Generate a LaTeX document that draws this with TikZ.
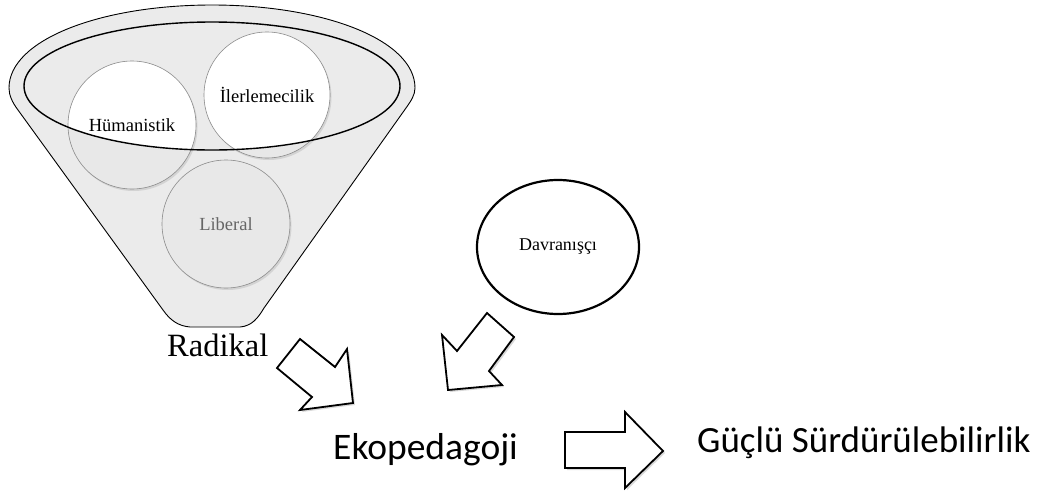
\documentclass[tikz,border=0pt]{standalone}
\usepackage{fontspec}
\setmainfont{Liberation Serif}
\newfontfamily\calibrifont{Carlito}
\usetikzlibrary{shapes.geometric,shadows}
\begin{document}
\begin{tikzpicture}[x=1pt,y=-1pt,
  funnelfill/.style={fill=black!8},
  softshadow/.style={drop shadow={opacity=0.22, shadow xshift=1.5pt, shadow yshift=-2pt}},
  school/.style={circle, minimum size=128pt, inner sep=0pt, draw=black!45, line width=0.6pt,
                 font=\fontsize{18.5}{18.5}\selectfont, text=black},
  bigarrow/.style={draw=black, line width=1.8pt, fill=white, line join=miter,
                   drop shadow={opacity=0.3, shadow xshift=2pt, shadow yshift=-2pt}},
  caption/.style={anchor=base west, inner sep=0pt},
]
\useasboundingbox (0,0) rectangle (1046,498);

% circle centres
\coordinate (humC) at (132,125);
\coordinate (ileC) at (267,95);
\coordinate (libC) at (226,224);
\coordinate (rimC) at (212,86);

% funnel body
\draw[funnelfill, line width=0.9pt]
  (9,88) .. controls (9,40) and (100,5) .. (212,5)
  .. controls (324,5) and (415,40) .. (415,88)
  .. controls (415,95) and (411,101) .. (406,108)
  -- (264,308) .. controls (258,318) and (252,326) .. (240,327)
  -- (190,327) .. controls (178,326) and (170,320) .. (163,310)
  -- (18,110) .. controls (12,102) and (9,95) .. (9,88) -- cycle;

% shaded discs
\fill[black!9, softshadow] (humC) circle[radius=64pt];
\fill[black!9, softshadow] (ileC) circle[radius=63pt];
\fill[black!9, softshadow] (libC) circle[radius=64pt];

% parts of the discs inside the rim are white
\begin{scope}
  \clip (rimC) ellipse[x radius=188pt, y radius=64pt];
  \fill[white] (humC) circle[radius=64pt];
  \fill[white] (ileC) circle[radius=63pt];
\end{scope}

% disc outlines and labels
\node[school] (hum) at (humC) {Hümanistik};
\node[school, minimum size=126pt] (ile) at (ileC) {İlerlemecilik};
\node[school, text=black!60] (lib) at (libC) {Liberal};

% funnel rim
\draw[line width=1.4pt] (rimC) ellipse[x radius=188pt, y radius=64pt];

\node[caption, font=\fontsize{32.5}{32.5}\selectfont] (rad) at (167,356) {Radikal};

% behaviourist circle
\node[ellipse, draw, line width=2.2pt, minimum width=162pt, minimum height=134pt,
      inner sep=0pt, font=\fontsize{18}{18}\selectfont] (dav) at (558,247) {Davranışçı};

\node[caption, font=\calibrifont\fontsize{37.5}{37.5}\selectfont] (eko) at (333,459) {Ekopedagoji};
\node[caption, font=\calibrifont\fontsize{37}{37}\selectfont] (gs) at (697,452) {Güçlü Sürdürülebilirlik};

% block arrows
\draw[bigarrow] (300,339) -- (335,367) -- (347,349) -- (353,403) -- (300,410)
  -- (312,397) -- (277,368) -- cycle;
\draw[bigarrow] (487,313) -- (514,337) -- (489,371) -- (502,385) -- (448,390)
  -- (442,335) -- (457,351) -- cycle;
\draw[bigarrow] (565,432) -- (625,432) -- (625,412) -- (663,451) -- (625,488)
  -- (625,468) -- (565,468) -- cycle;
\end{tikzpicture}
\end{document}
